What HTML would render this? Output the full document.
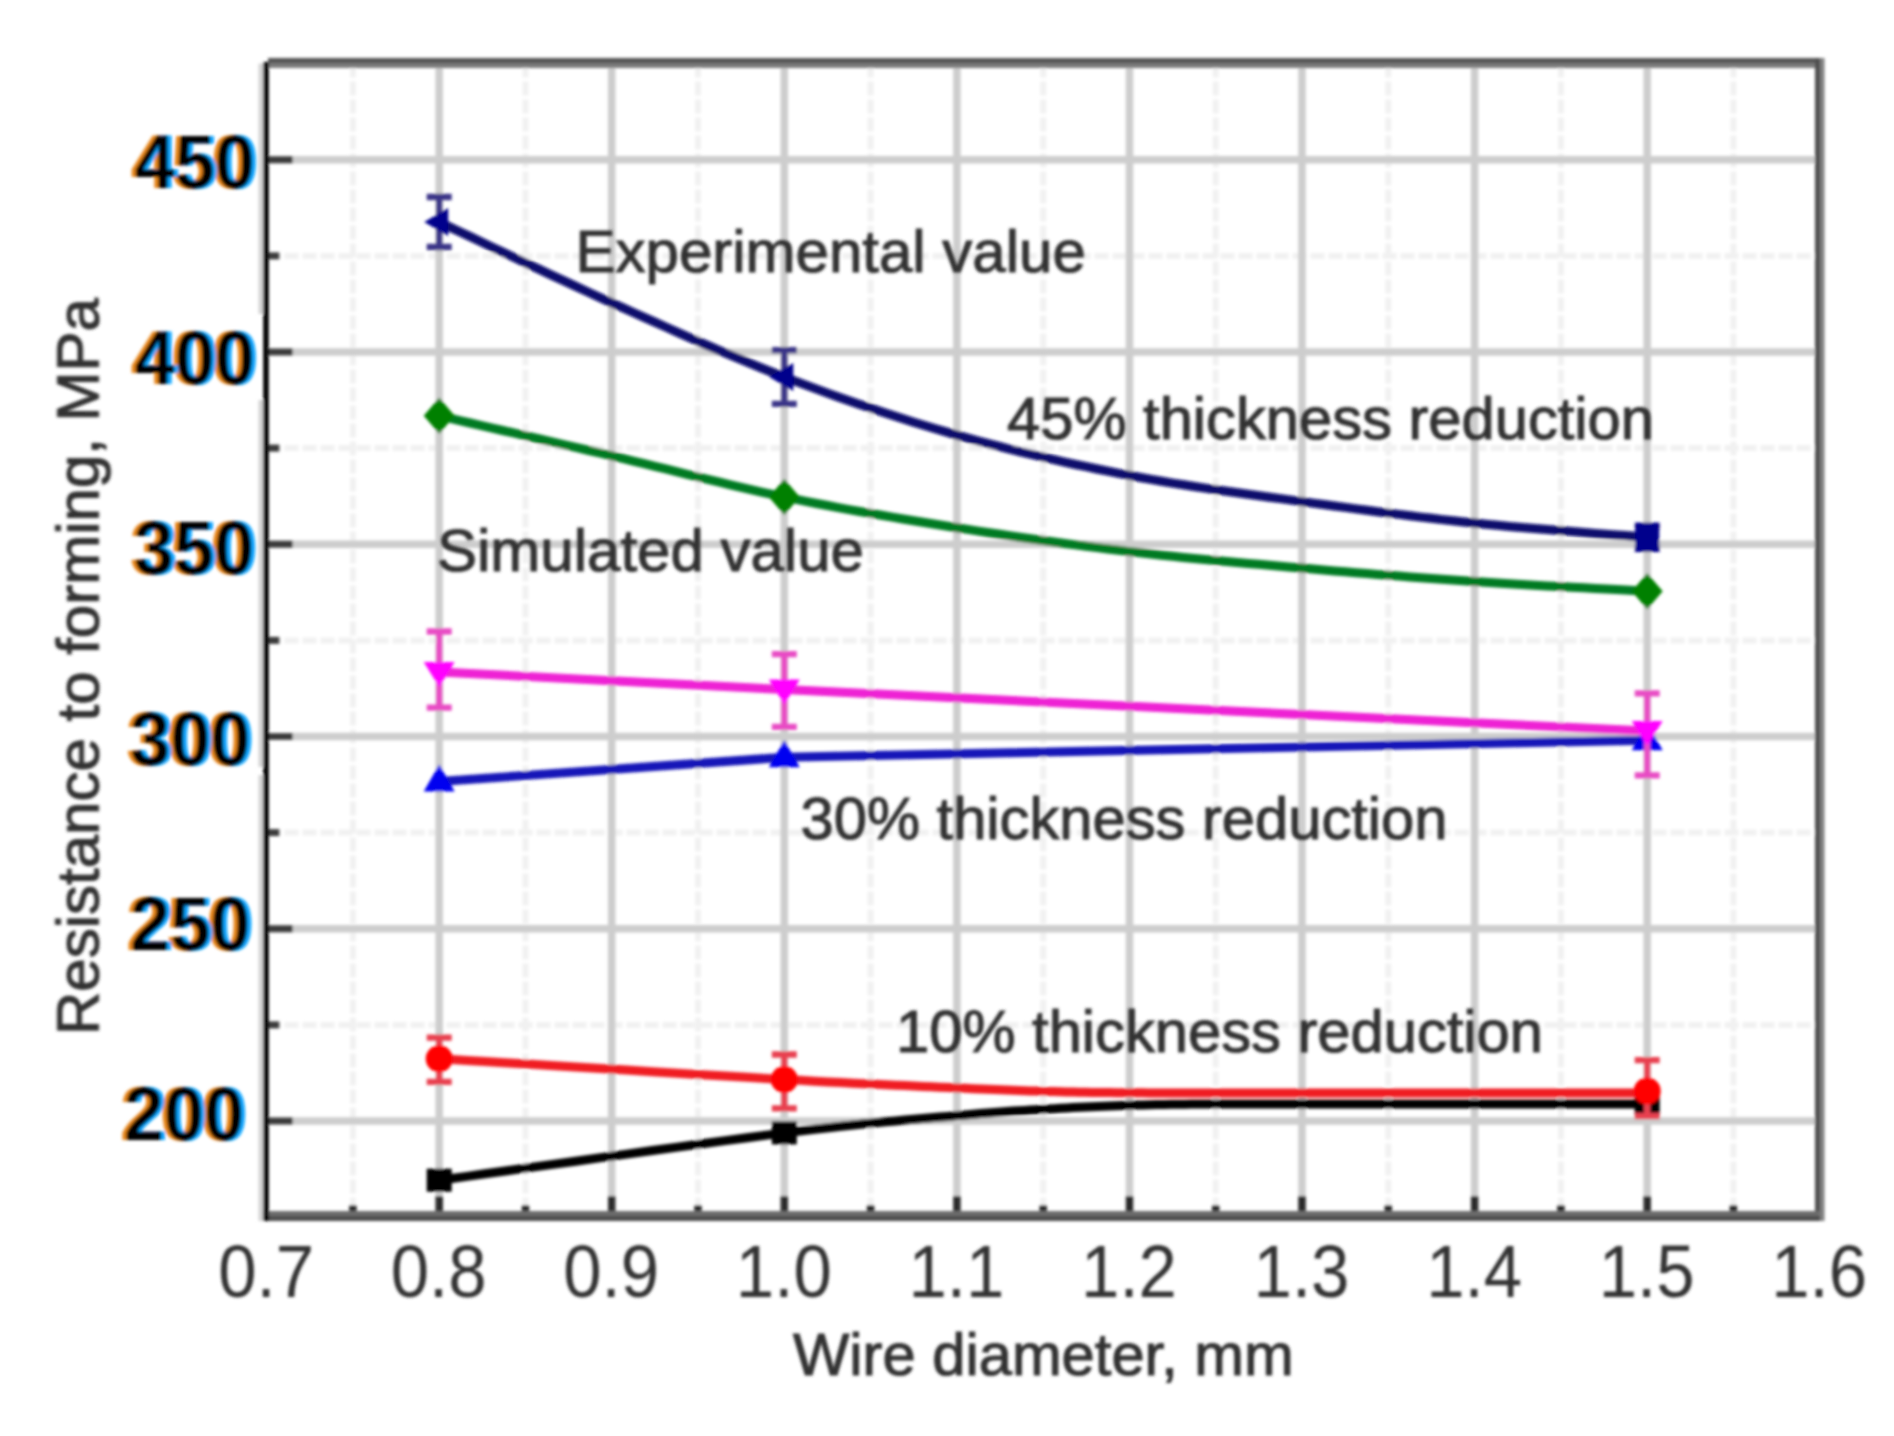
<!DOCTYPE html>
<html><head><meta charset="utf-8"><title>Resistance to forming vs wire diameter</title>
<style>
html,body{margin:0;padding:0;background:#fff;}
body{width:1894px;height:1436px;overflow:hidden;}
svg{display:block;}
text{font-family:"Liberation Sans",Arial,sans-serif;}
.yl{font-weight:bold;font-size:76px;text-anchor:end;}
.xl{font-size:75px;fill:#303030;text-anchor:middle;}
.lab{font-size:60px;fill:#303030;stroke:#303030;stroke-width:1.1;}
</style></head><body>
<svg width="1894" height="1436" viewBox="0 0 1894 1436">
<defs><filter id="b" x="-5%" y="-5%" width="110%" height="110%"><feGaussianBlur stdDeviation="1.5"/></filter>
<filter id="fr" x="0" y="0" width="400" height="1436" filterUnits="userSpaceOnUse">
<feOffset in="SourceAlpha" dx="-3.7" result="l"/><feFlood flood-color="#e8861c"/><feComposite in2="l" operator="in" result="lo"/>
<feOffset in="SourceAlpha" dx="4.3" result="r"/><feFlood flood-color="#08a4ff"/><feComposite in2="r" operator="in" result="ro"/>
<feMerge result="m"><feMergeNode in="lo"/><feMergeNode in="ro"/><feMergeNode in="SourceGraphic"/></feMerge>
<feGaussianBlur in="m" stdDeviation="1.7"/></filter>
<filter id="b2" x="-5%" y="-5%" width="110%" height="110%"><feGaussianBlur stdDeviation="1.7"/></filter></defs>
<rect width="1894" height="1436" fill="#fff"/>
<g filter="url(#b)">
<path d="M261,63.6V314M261,400V767M261,775V1221" stroke="#d4d4d4" stroke-width="5" fill="none"/>
<g stroke="#f1f1f1" stroke-width="6" stroke-dasharray="14 4" fill="none">
<line x1="352.9" y1="63.6" x2="352.9" y2="1217.1"/>
<line x1="525.5" y1="63.6" x2="525.5" y2="1217.1"/>
<line x1="698.0" y1="63.6" x2="698.0" y2="1217.1"/>
<line x1="870.6" y1="63.6" x2="870.6" y2="1217.1"/>
<line x1="1043.2" y1="63.6" x2="1043.2" y2="1217.1"/>
<line x1="1215.7" y1="63.6" x2="1215.7" y2="1217.1"/>
<line x1="1388.3" y1="63.6" x2="1388.3" y2="1217.1"/>
<line x1="1560.9" y1="63.6" x2="1560.9" y2="1217.1"/>
<line x1="1733.4" y1="63.6" x2="1733.4" y2="1217.1"/>
<line x1="266.6" y1="1024.9" x2="1819.7" y2="1024.9"/>
<line x1="266.6" y1="832.6" x2="1819.7" y2="832.6"/>
<line x1="266.6" y1="640.4" x2="1819.7" y2="640.4"/>
<line x1="266.6" y1="448.1" x2="1819.7" y2="448.1"/>
<line x1="266.6" y1="255.9" x2="1819.7" y2="255.9"/>
</g>
<g stroke="#cdcdcd" stroke-width="7.5" fill="none">
<line x1="439.2" y1="63.6" x2="439.2" y2="1217.1"/>
<line x1="611.7" y1="63.6" x2="611.7" y2="1217.1"/>
<line x1="784.3" y1="63.6" x2="784.3" y2="1217.1"/>
<line x1="956.9" y1="63.6" x2="956.9" y2="1217.1"/>
<line x1="1129.5" y1="63.6" x2="1129.5" y2="1217.1"/>
<line x1="1302.0" y1="63.6" x2="1302.0" y2="1217.1"/>
<line x1="1474.6" y1="63.6" x2="1474.6" y2="1217.1"/>
<line x1="1647.2" y1="63.6" x2="1647.2" y2="1217.1"/>
<line x1="266.6" y1="1121.0" x2="1819.7" y2="1121.0"/>
<line x1="266.6" y1="928.8" x2="1819.7" y2="928.8"/>
<line x1="266.6" y1="736.5" x2="1819.7" y2="736.5"/>
<line x1="266.6" y1="544.2" x2="1819.7" y2="544.2"/>
<line x1="266.6" y1="352.0" x2="1819.7" y2="352.0"/>
<line x1="266.6" y1="159.8" x2="1819.7" y2="159.8"/>
</g>
<g stroke="#3a3a3a" stroke-width="7" fill="none">
<line x1="266.6" y1="1121.0" x2="292.6" y2="1121.0"/>
<line x1="266.6" y1="928.8" x2="292.6" y2="928.8"/>
<line x1="266.6" y1="736.5" x2="292.6" y2="736.5"/>
<line x1="266.6" y1="544.2" x2="292.6" y2="544.2"/>
<line x1="266.6" y1="352.0" x2="292.6" y2="352.0"/>
<line x1="266.6" y1="159.8" x2="292.6" y2="159.8"/>
<line x1="266.6" y1="1024.9" x2="279.6" y2="1024.9"/>
<line x1="266.6" y1="832.6" x2="279.6" y2="832.6"/>
<line x1="266.6" y1="640.4" x2="279.6" y2="640.4"/>
<line x1="266.6" y1="448.1" x2="279.6" y2="448.1"/>
<line x1="266.6" y1="255.9" x2="279.6" y2="255.9"/>
</g><g stroke="#2a2a2a" stroke-width="7.5" fill="none">
<line x1="439.2" y1="1217.1" x2="439.2" y2="1196.1"/>
<line x1="611.7" y1="1217.1" x2="611.7" y2="1196.1"/>
<line x1="784.3" y1="1217.1" x2="784.3" y2="1196.1"/>
<line x1="956.9" y1="1217.1" x2="956.9" y2="1196.1"/>
<line x1="1129.5" y1="1217.1" x2="1129.5" y2="1196.1"/>
<line x1="1302.0" y1="1217.1" x2="1302.0" y2="1196.1"/>
<line x1="1474.6" y1="1217.1" x2="1474.6" y2="1196.1"/>
<line x1="1647.2" y1="1217.1" x2="1647.2" y2="1196.1"/>
<line x1="352.9" y1="1217.1" x2="352.9" y2="1205.1"/>
<line x1="525.5" y1="1217.1" x2="525.5" y2="1205.1"/>
<line x1="698.0" y1="1217.1" x2="698.0" y2="1205.1"/>
<line x1="870.6" y1="1217.1" x2="870.6" y2="1205.1"/>
<line x1="1043.2" y1="1217.1" x2="1043.2" y2="1205.1"/>
<line x1="1215.7" y1="1217.1" x2="1215.7" y2="1205.1"/>
<line x1="1388.3" y1="1217.1" x2="1388.3" y2="1205.1"/>
<line x1="1560.9" y1="1217.1" x2="1560.9" y2="1205.1"/>
<line x1="1733.4" y1="1217.1" x2="1733.4" y2="1205.1"/>
</g>
<rect x="268" y="58" width="1556" height="5" fill="#555"/><rect x="268" y="63" width="1556" height="5" fill="#7a7a7a"/>
<rect x="1815" y="58" width="5" height="1163" fill="#505050"/><rect x="1820" y="58" width="4.5" height="1163" fill="#808080"/>
<rect x="263" y="1211" width="1557" height="5" fill="#6c6c6c"/><rect x="263" y="1216" width="1557" height="5" fill="#4e4e4e"/>
<rect x="263.2" y="62" width="5.6" height="1159" fill="#000"/>
<g id="navy">
<path d="M439.2,222.0 L445.2,224.9 L452.5,228.3 L460.8,232.3 L470.2,236.7 L480.4,241.5 L491.2,246.7 L502.7,252.1 L514.7,257.8 L527.0,263.6 L539.4,269.4 L552.0,275.3 L564.6,281.2 L576.9,286.9 L589.0,292.5 L600.6,297.8 L611.7,302.8 L622.5,307.6 L633.3,312.5 L644.1,317.3 L654.9,322.2 L665.7,327.0 L676.5,331.8 L687.2,336.6 L698.0,341.3 L708.8,346.0 L719.6,350.6 L730.4,355.2 L741.2,359.7 L752.0,364.2 L762.7,368.5 L773.5,372.8 L784.3,377.0 L795.1,381.1 L805.9,385.1 L816.7,389.1 L827.5,393.1 L838.2,396.9 L849.0,400.7 L859.8,404.5 L870.6,408.1 L881.4,411.7 L892.2,415.3 L903.0,418.8 L913.7,422.2 L924.5,425.5 L935.3,428.8 L946.1,431.9 L956.9,435.1 L967.7,438.1 L978.5,441.0 L989.2,443.9 L1000.0,446.7 L1010.8,449.5 L1021.6,452.1 L1032.4,454.7 L1043.2,457.2 L1054.0,459.7 L1064.7,462.1 L1075.5,464.5 L1086.3,466.7 L1097.1,469.0 L1107.9,471.2 L1118.7,473.3 L1129.5,475.4 L1140.2,477.5 L1151.0,479.4 L1161.8,481.3 L1172.6,483.1 L1183.4,484.8 L1194.2,486.5 L1204.9,488.1 L1215.7,489.7 L1226.5,491.2 L1237.3,492.7 L1248.1,494.2 L1258.9,495.7 L1269.7,497.2 L1280.4,498.6 L1291.2,500.1 L1302.0,501.6 L1312.8,503.1 L1323.6,504.5 L1334.4,506.0 L1345.2,507.4 L1355.9,508.9 L1366.7,510.3 L1377.5,511.7 L1388.3,513.1 L1399.1,514.4 L1409.9,515.8 L1420.7,517.1 L1431.4,518.3 L1442.2,519.6 L1453.0,520.8 L1463.8,522.0 L1474.6,523.1 L1485.7,524.2 L1497.3,525.3 L1509.4,526.4 L1521.8,527.5 L1534.3,528.6 L1546.9,529.6 L1559.4,530.6 L1571.7,531.6 L1583.6,532.5 L1595.1,533.4 L1606.0,534.2 L1616.2,534.9 L1625.5,535.6 L1633.8,536.3 L1641.1,536.8 L1647.2,537.3" stroke="#0a0a6c" stroke-width="9" fill="none" stroke-linejoin="round"/>
<path d="M439.2,197.0V247.0M426.7,197.0H451.7M426.7,247.0H451.7" stroke="#3a3488" stroke-width="6.3" fill="none"/>
<path d="M784.3,350.1V403.9M771.8,350.1H796.8M771.8,403.9H796.8" stroke="#3a3488" stroke-width="6.3" fill="none"/>
<path d="M1647.2,525.8V548.9M1634.7,525.8H1659.7M1634.7,548.9H1659.7" stroke="#3a3488" stroke-width="6.3" fill="none"/>
<path d="M424.2,222.0L448.2,208.0V236.0Z" fill="#00008c"/>
<path d="M769.3,377.0L793.3,363.0V391.0Z" fill="#00008c"/>
<rect x="1635.2" y="522.8" width="24" height="29" fill="#00008c"/>
</g>
<g id="green">
<path d="M439.2,415.8 L445.2,417.2 L452.5,418.9 L460.8,420.8 L470.2,423.0 L480.4,425.3 L491.2,427.8 L502.7,430.5 L514.7,433.2 L527.0,436.1 L539.4,439.0 L552.0,441.9 L564.6,444.8 L576.9,447.7 L589.0,450.5 L600.6,453.2 L611.7,455.8 L622.5,458.4 L633.3,461.0 L644.1,463.6 L654.9,466.3 L665.7,468.9 L676.5,471.6 L687.2,474.3 L698.0,477.0 L708.8,479.6 L719.6,482.2 L730.4,484.8 L741.2,487.4 L752.0,489.9 L762.7,492.3 L773.5,494.7 L784.3,497.0 L795.1,499.2 L805.9,501.3 L816.7,503.5 L827.5,505.5 L838.2,507.6 L849.0,509.6 L859.8,511.5 L870.6,513.4 L881.4,515.3 L892.2,517.1 L903.0,519.0 L913.7,520.8 L924.5,522.5 L935.3,524.3 L946.1,526.0 L956.9,527.7 L967.7,529.4 L978.5,531.1 L989.2,532.7 L1000.0,534.3 L1010.8,535.9 L1021.6,537.5 L1032.4,539.0 L1043.2,540.5 L1054.0,542.0 L1064.7,543.5 L1075.5,544.9 L1086.3,546.3 L1097.1,547.6 L1107.9,549.0 L1118.7,550.3 L1129.5,551.6 L1140.2,552.8 L1151.0,554.0 L1161.8,555.2 L1172.6,556.3 L1183.4,557.4 L1194.2,558.4 L1204.9,559.5 L1215.7,560.5 L1226.5,561.5 L1237.3,562.4 L1248.1,563.4 L1258.9,564.3 L1269.7,565.3 L1280.4,566.2 L1291.2,567.2 L1302.0,568.1 L1312.8,569.0 L1323.6,569.9 L1334.4,570.9 L1345.2,571.8 L1355.9,572.7 L1366.7,573.5 L1377.5,574.4 L1388.3,575.3 L1399.1,576.1 L1409.9,576.9 L1420.7,577.7 L1431.4,578.5 L1442.2,579.3 L1453.0,580.1 L1463.8,580.8 L1474.6,581.5 L1485.7,582.3 L1497.3,583.0 L1509.4,583.7 L1521.8,584.4 L1534.3,585.2 L1546.9,585.9 L1559.4,586.5 L1571.7,587.2 L1583.6,587.8 L1595.1,588.4 L1606.0,589.0 L1616.2,589.5 L1625.5,590.0 L1633.8,590.4 L1641.1,590.8 L1647.2,591.2" stroke="#057a22" stroke-width="9" fill="none" stroke-linejoin="round"/>
<path d="M423.7,415.8L439.2,397.8L454.7,415.8L439.2,433.8Z" fill="#008000"/>
<path d="M768.8,497.0L784.3,479.0L799.8,497.0L784.3,515.0Z" fill="#008000"/>
<path d="M1631.7,591.2L1647.2,573.2L1662.7,591.2L1647.2,609.2Z" fill="#008000"/>
</g>
<g id="blue">
<path d="M439.2,781.5 L784.3,757.3 L1647.2,740.3" stroke="#1414b8" stroke-width="9" fill="none" stroke-linejoin="round"/>
<path d="M423.7,791.5H454.7L439.2,764.5Z" fill="#0000f0"/>
<path d="M768.8,767.3H799.8L784.3,740.3Z" fill="#0000f0"/>
<path d="M1631.7,750.3H1662.7L1647.2,723.3Z" fill="#0000f0"/>
</g>
<g id="mag">
<path d="M439.2,671.9 L784.3,689.6 L1647.2,731.1" stroke="#ee22d4" stroke-width="9" fill="none" stroke-linejoin="round"/>
<path d="M439.2,631.5V707.7M426.7,631.5H451.7M426.7,707.7H451.7" stroke="#e84cc4" stroke-width="6.3" fill="none"/>
<path d="M784.3,654.2V726.9M771.8,654.2H796.8M771.8,726.9H796.8" stroke="#e84cc4" stroke-width="6.3" fill="none"/>
<path d="M1647.2,693.4V775.3M1634.7,693.4H1659.7M1634.7,775.3H1659.7" stroke="#e84cc4" stroke-width="6.3" fill="none"/>
<path d="M423.7,661.9H454.7L439.2,686.9Z" fill="#ff00ff"/>
<path d="M768.8,679.6H799.8L784.3,704.6Z" fill="#ff00ff"/>
<path d="M1631.7,721.1H1662.7L1647.2,746.1Z" fill="#ff00ff"/>
</g>
<g id="black">
<path d="M439.2,1180.2 L451.6,1178.5 L467.0,1176.4 L485.0,1173.8 L505.2,1171.0 L527.3,1167.9 L550.9,1164.6 L575.6,1161.2 L601.0,1157.6 L626.7,1154.1 L652.4,1150.5 L677.6,1147.1 L702.1,1143.7 L725.3,1140.6 L747.1,1137.7 L766.8,1135.1 L784.3,1132.9 L800.0,1131.0 L814.6,1129.3 L828.3,1127.7 L841.2,1126.3 L853.3,1125.0 L864.7,1123.8 L875.5,1122.7 L885.7,1121.8 L895.4,1120.9 L904.8,1120.1 L913.8,1119.3 L922.6,1118.5 L931.3,1117.8 L939.8,1117.1 L948.3,1116.4 L956.9,1115.6 L965.2,1114.9 L973.1,1114.2 L980.6,1113.6 L987.6,1113.0 L994.3,1112.5 L1000.8,1112.0 L1007.0,1111.5 L1013.0,1111.1 L1018.8,1110.7 L1024.6,1110.4 L1030.4,1110.0 L1036.2,1109.7 L1042.0,1109.3 L1048.0,1109.0 L1054.1,1108.7 L1060.4,1108.3 L1066.8,1108.0 L1073.1,1107.6 L1079.3,1107.3 L1085.5,1107.0 L1091.6,1106.7 L1097.7,1106.5 L1103.9,1106.2 L1110.0,1106.0 L1116.3,1105.7 L1122.6,1105.5 L1129.1,1105.3 L1135.7,1105.1 L1142.4,1104.9 L1149.4,1104.8 L1156.5,1104.6 L1164.0,1104.5 L1171.3,1104.3 L1178.2,1104.3 L1184.8,1104.2 L1191.2,1104.1 L1197.6,1104.1 L1204.1,1104.1 L1210.8,1104.0 L1217.9,1104.0 L1225.4,1104.0 L1233.6,1104.0 L1242.4,1104.1 L1252.1,1104.1 L1262.8,1104.1 L1274.6,1104.1 L1287.6,1104.1 L1302.0,1104.1 L1318.5,1104.1 L1337.6,1104.1 L1358.8,1104.1 L1381.8,1104.1 L1406.2,1104.1 L1431.4,1104.1 L1457.3,1104.1 L1483.2,1104.1 L1508.9,1104.1 L1533.9,1104.1 L1557.8,1104.1 L1580.3,1104.1 L1600.8,1104.1 L1619.1,1104.1 L1634.7,1104.1 L1647.2,1104.1" stroke="#000" stroke-width="9" fill="none" stroke-linejoin="round"/>
<rect x="426.7" y="1168.7" width="25" height="23" fill="#000"/>
<rect x="771.8" y="1121.4" width="25" height="23" fill="#000"/>
<rect x="1634.7" y="1092.6" width="25" height="23" fill="#000"/>
</g>
<g id="red">
<path d="M439.2,1058.7 L451.6,1059.5 L467.0,1060.4 L485.0,1061.5 L505.2,1062.7 L527.3,1064.1 L550.9,1065.5 L575.6,1067.0 L601.0,1068.6 L626.7,1070.1 L652.4,1071.7 L677.6,1073.2 L702.1,1074.7 L725.3,1076.0 L747.1,1077.3 L766.8,1078.5 L784.3,1079.5 L800.0,1080.3 L814.6,1081.2 L828.3,1081.9 L841.2,1082.6 L853.3,1083.2 L864.7,1083.8 L875.5,1084.3 L885.7,1084.8 L895.4,1085.2 L904.8,1085.6 L913.8,1086.0 L922.6,1086.4 L931.3,1086.8 L939.8,1087.2 L948.3,1087.6 L956.9,1087.9 L965.2,1088.3 L973.1,1088.7 L980.6,1089.0 L987.6,1089.3 L994.3,1089.6 L1000.8,1089.8 L1007.0,1090.1 L1013.0,1090.3 L1018.8,1090.5 L1024.6,1090.7 L1030.4,1090.9 L1036.2,1091.1 L1042.0,1091.3 L1048.0,1091.5 L1054.1,1091.6 L1060.4,1091.8 L1066.8,1091.9 L1073.1,1092.1 L1079.3,1092.2 L1085.5,1092.3 L1091.6,1092.4 L1097.7,1092.5 L1103.9,1092.5 L1110.0,1092.6 L1116.3,1092.7 L1122.6,1092.7 L1129.1,1092.7 L1135.7,1092.8 L1142.4,1092.8 L1149.4,1092.9 L1156.5,1092.9 L1164.0,1092.9 L1171.3,1093.0 L1178.2,1093.0 L1184.8,1093.0 L1191.2,1093.0 L1197.6,1093.0 L1204.1,1093.0 L1210.8,1093.0 L1217.9,1093.0 L1225.4,1093.0 L1233.6,1093.0 L1242.4,1093.0 L1252.1,1093.0 L1262.8,1092.9 L1274.6,1092.9 L1287.6,1092.9 L1302.0,1092.9 L1318.5,1092.9 L1337.6,1092.9 L1358.8,1092.9 L1381.8,1092.9 L1406.2,1092.9 L1431.4,1092.9 L1457.3,1092.9 L1483.2,1092.9 L1508.9,1092.9 L1533.9,1092.9 L1557.8,1092.9 L1580.3,1092.9 L1600.8,1092.9 L1619.1,1092.9 L1634.7,1092.9 L1647.2,1092.9" stroke="#f01c24" stroke-width="9" fill="none" stroke-linejoin="round"/>
<path d="M439.2,1037.6V1081.8M426.7,1037.6H451.7M426.7,1081.8H451.7" stroke="#e84050" stroke-width="6.3" fill="none"/>
<path d="M784.3,1054.5V1108.3M771.8,1054.5H796.8M771.8,1108.3H796.8" stroke="#e84050" stroke-width="6.3" fill="none"/>
<path d="M1647.2,1060.2V1116.0M1634.7,1060.2H1659.7M1634.7,1116.0H1659.7" stroke="#e84050" stroke-width="6.3" fill="none"/>
<circle cx="439.2" cy="1058.7" r="13.5" fill="#ff0000"/>
<circle cx="784.3" cy="1079.5" r="13.5" fill="#ff0000"/>
<circle cx="1647.2" cy="1091.0" r="13.5" fill="#ff0000"/>
</g>
</g>
<g filter="url(#fr)">
<text class="yl" transform="translate(244.1,1140.3) scale(0.95,1)" fill="#000">200</text>
<text class="yl" transform="translate(250.5,950.0) scale(0.95,1)" fill="#000">250</text>
<text class="yl" transform="translate(250.5,764.6) scale(0.95,1)" fill="#000">300</text>
<text class="yl" transform="translate(254.1,573.8) scale(0.95,1)" fill="#000">350</text>
<text class="yl" transform="translate(255.0,383.6) scale(0.95,1)" fill="#000">400</text>
<text class="yl" transform="translate(255.0,188.0) scale(0.95,1)" fill="#000">450</text>
</g>
<g filter="url(#b2)">
<text class="xl" transform="translate(266.1,1296.5) scale(0.92,1)">0.7</text>
<text class="xl" transform="translate(438.7,1296.5) scale(0.92,1)">0.8</text>
<text class="xl" transform="translate(611.2,1296.5) scale(0.92,1)">0.9</text>
<text class="xl" transform="translate(783.8,1296.5) scale(0.92,1)">1.0</text>
<text class="xl" transform="translate(956.4,1296.5) scale(0.92,1)">1.1</text>
<text class="xl" transform="translate(1129.0,1296.5) scale(0.92,1)">1.2</text>
<text class="xl" transform="translate(1301.5,1296.5) scale(0.92,1)">1.3</text>
<text class="xl" transform="translate(1474.1,1296.5) scale(0.92,1)">1.4</text>
<text class="xl" transform="translate(1646.7,1296.5) scale(0.92,1)">1.5</text>
<text class="xl" transform="translate(1819.2,1296.5) scale(0.92,1)">1.6</text>
<text class="lab" x="575.5" y="271.5">Experimental value</text>
<text class="lab" x="437" y="571">Simulated value</text>
<text class="lab" x="1007" y="438.5" style="font-size:59.7px">45% thickness reduction</text>
<text class="lab" x="800.5" y="838.5" style="font-size:59.7px">30% thickness reduction</text>
<text class="lab" x="896" y="1052" style="font-size:59.7px">10% thickness reduction</text>
<text class="lab" x="793" y="1374.5" style="font-size:59.7px">Wire diameter, mm</text>
<text class="lab" transform="translate(98.5,1035) rotate(-90)">Resistance to forming, MPa</text>
</g>
</svg></body></html>
